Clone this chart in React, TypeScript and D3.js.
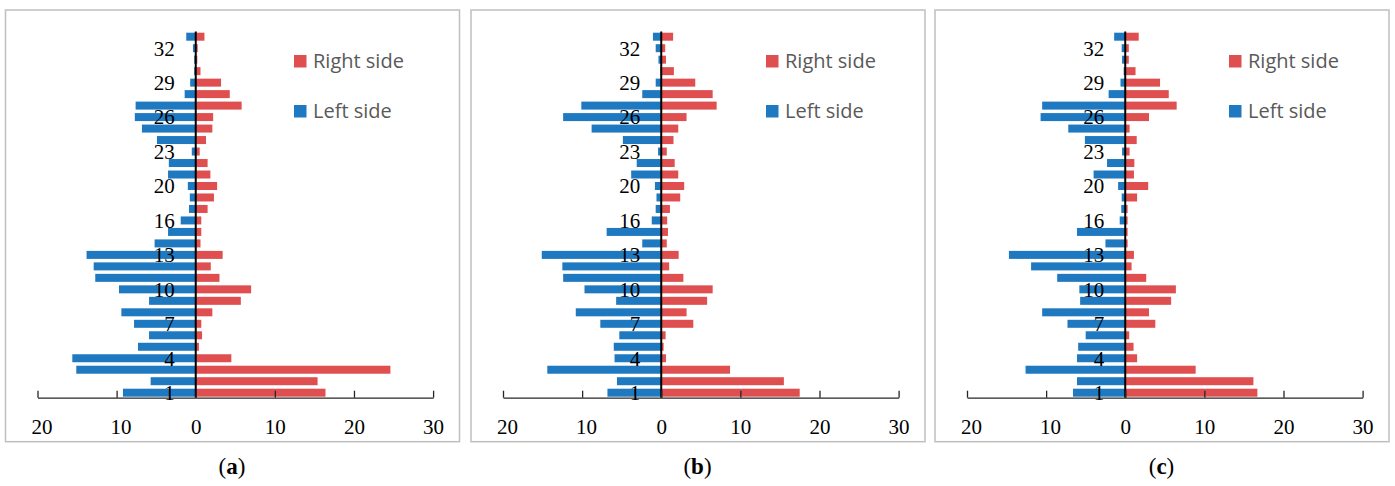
import { useEffect, useRef } from "react";
import * as d3 from "d3";

// categories (17 is not in the data)
const categories = [
  1, 2, 3, 4, 5, 6, 7, 8, 9, 10, 11, 12, 13, 14, 15, 16,
  18, 19, 20, 21, 22, 23, 24, 25, 26, 27, 28, 29, 30, 31, 32, 33,
];
const labelledCategories = [1, 4, 7, 10, 13, 16, 20, 23, 26, 29, 32];
const xTicks = [-20, -10, 0, 10, 20, 30];
const panelNames = ["a", "b", "c"];
const seriesNames = ["Right side", "Left side"];

const leftA = [9.2, 5.7, 15.1, 15.6, 7.3, 5.9, 7.8, 9.4, 5.9, 9.7, 12.7, 12.9, 13.8, 5.2, 3.5, 1.9,
  0.85, 0.75, 1.0, 3.5, 3.4, 0.5, 4.9, 6.8, 7.7, 7.6, 1.4, 0.7, 0.2, 0.2, 0.35, 1.2];
const rightA = [16.4, 15.4, 24.6, 4.5, 0.4, 0.8, 0.7, 2.1, 5.7, 7.0, 3.0, 1.9, 3.4, 0.6, 0.7, 0.7,
  1.5, 2.3, 2.7, 1.85, 1.5, 0.5, 1.3, 2.1, 2.2, 5.8, 4.3, 3.2, 0.6, 0.2, 0.25, 1.1];

const leftB = [6.8, 5.6, 14.4, 5.9, 6.0, 5.3, 7.7, 10.8, 5.7, 9.7, 12.4, 12.5, 15.1, 2.4, 6.9, 1.2,
  0.7, 0.6, 0.8, 3.8, 3.1, 0.4, 4.85, 8.8, 12.4, 10.1, 2.4, 0.7, 0.1, 0.35, 0.7, 1.05];
const rightB = [17.5, 15.5, 8.7, 0.6, 0.3, 0.55, 4.05, 3.2, 5.8, 6.5, 2.8, 1.0, 2.2, 0.7, 0.85, 0.75,
  1.1, 2.4, 2.9, 2.15, 1.7, 0.7, 1.55, 2.15, 3.2, 7.0, 6.5, 4.3, 1.6, 0.6, 0.5, 1.5];

const leftC = [6.6, 6.1, 12.6, 6.1, 5.95, 5.0, 7.3, 10.5, 5.7, 5.8, 8.6, 11.9, 14.7, 2.5, 6.1, 0.7,
  0.5, 0.45, 0.9, 4.0, 2.3, 0.4, 5.1, 7.2, 10.7, 10.5, 2.1, 0.6, 0.2, 0.4, 0.45, 1.4];
const rightC = [16.7, 16.2, 8.9, 1.5, 1.05, 0.5, 3.8, 3.0, 5.8, 6.4, 2.65, 0.8, 1.1, 0.3, 0.3, 0.3,
  0.3, 1.5, 2.9, 1.1, 1.15, 0.55, 1.45, 0.55, 3.0, 6.5, 5.5, 4.4, 1.3, 0.45, 0.45, 1.7];

const panelData = [
  { left: leftA, right: rightA },
  { left: leftB, right: rightB },
  { left: leftC, right: rightC },
];

const WIDTH = 1395;
const HEIGHT = 486;
const BLUE = "#1f79c1";
const RED = "#e04f4f";
const frameLefts = [5.5, 471, 935];
const legendLefts = [294, 766, 1229];

function drawPanel(svg, i) {
  const fx = frameLefts[i];
  const { left, right } = panelData[i];

  const x = d3.scaleLinear().domain([-20, 30]).range([fx + 32, fx + 32 + 395.6]);
  const y = d3.scalePoint()
    .domain(categories.slice().reverse().map(String))
    .range([36.7, 392.7]);
  const barH = 8;
  const axisY = 397.7;

  const g = svg.append("g");

  g.append("rect")
    .attr("x", fx)
    .attr("y", 10)
    .attr("width", 454)
    .attr("height", 431.7)
    .attr("fill", "white")
    .attr("stroke", "#bfbfbf")
    .attr("stroke-width", 1.5);

  g.append("g")
    .selectAll("rect")
    .data(categories.map((c, k) => ({ c, v: left[k] })))
    .join("rect")
    .attr("x", d => x(-d.v))
    .attr("y", d => y(String(d.c)) - barH / 2)
    .attr("width", d => x(0) - x(-d.v))
    .attr("height", barH)
    .attr("fill", BLUE);

  g.append("g")
    .selectAll("rect")
    .data(categories.map((c, k) => ({ c, v: right[k] })))
    .join("rect")
    .attr("x", x(0))
    .attr("y", d => y(String(d.c)) - barH / 2)
    .attr("width", d => x(d.v) - x(0))
    .attr("height", barH)
    .attr("fill", RED);

  // zero line
  g.append("line")
    .attr("x1", x(0))
    .attr("x2", x(0))
    .attr("y1", 31.5)
    .attr("y2", axisY)
    .attr("stroke", "black")
    .attr("stroke-width", 2);

  // bottom axis, ticks pointing up
  const axis = g.append("g")
    .attr("transform", `translate(0,${axisY})`)
    .call(
      d3.axisBottom(x)
        .tickValues(xTicks)
        .tickSizeInner(-7)
        .tickSizeOuter(0)
        .tickPadding(21.5)
        .tickFormat(d => String(Math.abs(d)))
    );
  axis.select(".domain").attr("stroke", "#262626").attr("stroke-width", 1.3);
  axis.selectAll(".tick line").attr("stroke", "#262626").attr("stroke-width", 1.3);
  axis.selectAll(".tick text")
    .attr("fill", "black")
    .attr("font-family", "'Liberation Serif', 'DejaVu Serif', serif")
    .attr("font-size", 21)
    .attr("dx", d => (d < 0 ? 4 : 0));

  // category labels
  g.append("g")
    .selectAll("text")
    .data(labelledCategories)
    .join("text")
    .attr("x", x(0) - 21)
    .attr("y", d => y(String(d)))
    .attr("dy", "0.35em")
    .attr("text-anchor", "end")
    .attr("font-family", "'Liberation Serif', 'DejaVu Serif', serif")
    .attr("font-size", 21)
    .attr("fill", "black")
    .text(d => d);

  // legend
  const lx = legendLefts[i];
  const legend = g.append("g")
    .selectAll("g")
    .data(seriesNames)
    .join("g")
    .attr("transform", (d, k) => `translate(${lx},${55 + k * 50})`);
  legend.append("rect")
    .attr("width", 12.5)
    .attr("height", 12.5)
    .attr("fill", (d, k) => (k === 0 ? RED : BLUE));
  legend.append("text")
    .attr("x", 19)
    .attr("y", 13.3)
    .attr("font-family", "'Open Sans', 'Noto Sans', sans-serif")
    .attr("font-size", 20)
    .attr("fill", "#595959")
    .text(d => d);

  // panel caption
  const cap = g.append("text")
    .attr("x", fx + 226.5)
    .attr("y", 474)
    .attr("text-anchor", "middle")
    .attr("font-family", "'Liberation Serif', 'DejaVu Serif', serif")
    .attr("font-size", 23)
    .attr("fill", "black");
  cap.append("tspan").text("(");
  cap.append("tspan").attr("font-weight", "bold").text(panelNames[i]);
  cap.append("tspan").text(")");
}

export default function App() {
  const ref = useRef(null);

  useEffect(() => {
    const svg = d3.select(ref.current);
    svg.selectAll("*").remove();
    svg.append("rect").attr("width", WIDTH).attr("height", HEIGHT).attr("fill", "white");
    panelNames.forEach((_, i) => drawPanel(svg, i));
  }, []);

  return (
    <div style={{ position: "absolute", left: 0, top: 0 }}>
      <svg ref={ref} width={WIDTH} height={HEIGHT} style={{ display: "block" }} />
    </div>
  );
}
